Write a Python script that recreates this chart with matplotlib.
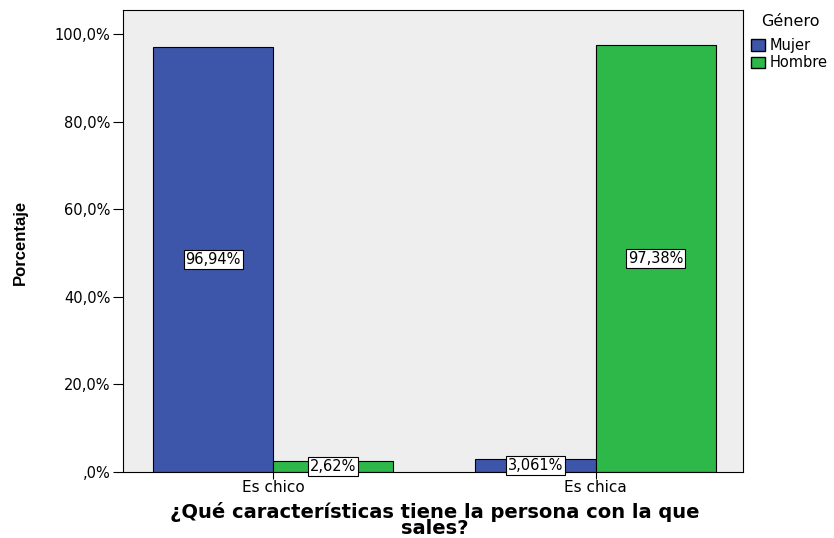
import matplotlib
matplotlib.use("Agg")
import matplotlib.pyplot as plt
from matplotlib.patches import Patch

categories = ["Es chico", "Es chica"]
series = ["Mujer", "Hombre"]
mujer = [96.94, 3.061]
hombre = [2.62, 97.38]
mujer_labels = ["96,94%", "3,061%"]
hombre_labels = ["2,62%", "97,38%"]
yticks = [0, 20, 40, 60, 80, 100]
ytick_labels = [",0%", "20,0%", "40,0%", "60,0%", "80,0%", "100,0%"]

blue = "#3E56AA"
green = "#2EB84A"
FONT = "DejaVu Sans"

fig = plt.figure(figsize=(8.34, 5.38), dpi=100)
ax = fig.add_axes([123/834, 1 - 472/538, (743-123)/834, (472-10)/538])
ax.set_facecolor("#EEEEEE")

w = 0.3727
x = [0, 1]
b1 = ax.bar([xi - w/2 for xi in x], mujer, width=w, color=blue, edgecolor="black", linewidth=0.8)
b2 = ax.bar([xi + w/2 for xi in x], hombre, width=w, color=green, edgecolor="black", linewidth=0.8)

bbox = dict(boxstyle="square,pad=0.12", facecolor="white", edgecolor="black", linewidth=0.8)
for rects, vals, labs in [(b1, mujer, mujer_labels), (b2, hombre, hombre_labels)]:
    for r, v, l in zip(rects, vals, labs):
        ax.text(r.get_x() + r.get_width()/2, v/2, l, ha="center", va="center",
                fontsize=10.5, bbox=bbox, family=FONT)

ax.set_xlim(-0.466, 1.457)
ax.set_ylim(0, 100 + 24/4.38)
ax.set_yticks(yticks)
ax.set_yticklabels(ytick_labels, fontsize=10.5, family=FONT)
ax.set_xticks(x)
ax.set_xticklabels(categories, fontsize=11, family=FONT)
ax.tick_params(axis="y", length=7, width=0.8, pad=2)
ax.tick_params(axis="x", length=5, width=0.8, pad=1)
for s in ax.spines.values():
    s.set_linewidth(0.8)

fig.text(20/834, 1 - 242/538, "Porcentaje", rotation=90, ha="center", va="center",
         fontsize=12, fontweight="bold", family="Liberation Sans")
fig.text(435/834, 1 - 520/538, "¿Qué características tiene la persona con la que\nsales?",
         ha="center", va="center", fontsize=14, fontweight="bold", family=FONT,
         linespacing=0.8, multialignment="center")

fig.text(790/834, 1 - 22/538, "Género", ha="center", va="center",
         fontsize=11.5, family=FONT)
handles = [Patch(facecolor=blue, edgecolor="black", label="Mujer"),
           Patch(facecolor=green, edgecolor="black", label="Hombre")]
leg = fig.legend(handles=handles, loc="upper left",
                 bbox_to_anchor=(751/834, 1 - 38/538), frameon=False,
                 prop=dict(family=FONT, size=10.5),
                 handlelength=0.95, handleheight=0.8, handletextpad=0.3,
                 labelspacing=0.15, borderaxespad=0, borderpad=0)

fig.savefig("out.png", dpi=100)
